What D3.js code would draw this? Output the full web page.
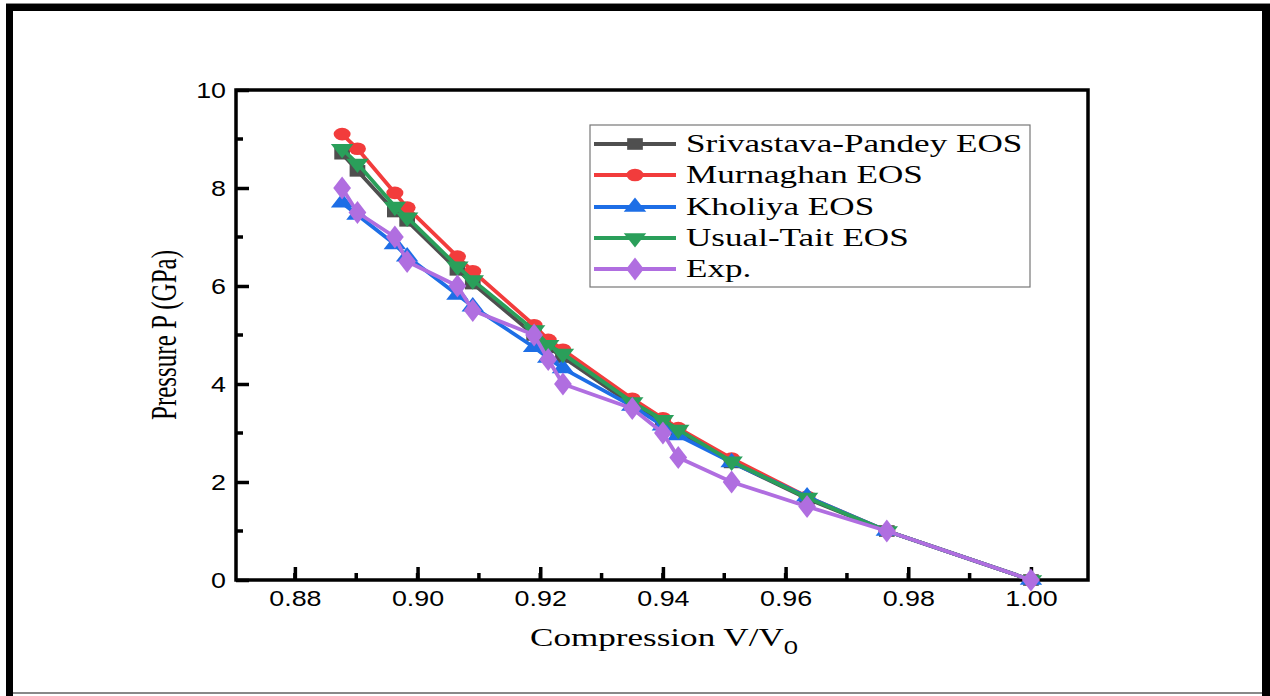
<!DOCTYPE html>
<html><head><meta charset="utf-8">
<script src="https://cdn.jsdelivr.net/npm/d3@7"></script>
<style>html,body{margin:0;padding:0;background:#fff;}svg{display:block;}</style>
</head><body>
<svg id="chart" width="1270" height="696"></svg>
<script>
const compression = [0.8877, 0.8902, 0.8963, 0.8983, 0.9065, 0.9090, 0.9190, 0.9213, 0.9237, 0.9350, 0.9400, 0.9425, 0.9512, 0.9635, 0.9765, 1.0000];
const srivastavaPandey = [8.70, 8.35, 7.52, 7.33, 6.33, 6.05, 5.00, 4.75, 4.55, 3.58, 3.20, 3.02, 2.40, 1.66, 1.00, 0];
const murnaghan = [9.10, 8.80, 7.90, 7.60, 6.60, 6.30, 5.20, 4.90, 4.70, 3.70, 3.30, 3.10, 2.48, 1.70, 1.00, 0];
const kholiya = [7.70, 7.45, 6.85, 6.60, 5.82, 5.58, 4.75, 4.53, 4.32, 3.55, 3.15, 2.95, 2.40, 1.70, 1.00, 0];
const usualTait = [8.80, 8.50, 7.62, 7.40, 6.40, 6.12, 5.10, 4.80, 4.62, 3.63, 3.27, 3.07, 2.42, 1.68, 1.00, 0];
const experiment = [8.0, 7.5, 7.0, 6.5, 6.0, 5.5, 5.0, 4.5, 4.0, 3.5, 3.0, 2.5, 2.0, 1.5, 1.0, 0];
const seriesNames = ["Srivastava-Pandey EOS", "Murnaghan EOS", "Kholiya EOS", "Usual-Tait EOS", "Exp."];
const xTicks = [0.88, 0.90, 0.92, 0.94, 0.96, 0.98, 1.00];
const yTicks = [0, 2, 4, 6, 8, 10];

const SX = 1.35; // horizontal stretch seen in the reference picture

const series = [
  {name: seriesNames[0], values: srivastavaPandey, color: "#4f4f4f", symbol: d3.symbolSquare, size: 135, rot: 0},
  {name: seriesNames[1], values: murnaghan, color: "#f23c3c", symbol: d3.symbolCircle, size: 125, rot: 0},
  {name: seriesNames[2], values: kholiya, color: "#1d6ee6", symbol: d3.symbolTriangle, size: 120, rot: 0},
  {name: seriesNames[3], values: usualTait, color: "#2a9f5a", symbol: d3.symbolTriangle, size: 120, rot: 180},
  {name: seriesNames[4], values: experiment, color: "#b06ee0", symbol: d3.symbolDiamond, size: 150, rot: 0}
];

function stretch(sel, s) {
  sel.each(function() {
    const len = this.getComputedTextLength();
    d3.select(this).attr("textLength", len * s).attr("lengthAdjust", "spacingAndGlyphs");
  });
}

const svg = d3.select("#chart");
// outer frame
svg.append("rect").attr("x",0).attr("y",0).attr("width",1270).attr("height",696).attr("fill","#fff");
svg.append("rect").attr("x",6).attr("y",3).attr("width",1264).attr("height",1.5).attr("fill","#888");
svg.append("rect").attr("x",6).attr("y",4).attr("width",1264).attr("height",7).attr("fill","#000");
svg.append("rect").attr("x",6).attr("y",4).attr("width",7).attr("height",692).attr("fill","#000");
svg.append("rect").attr("x",1262).attr("y",4).attr("width",8).attr("height",692).attr("fill","#000");
svg.append("rect").attr("x",13).attr("y",692).attr("width",1249).attr("height",2).attr("fill","#888");

const L = 236, R = 1088, T = 90, B = 580;
const x = d3.scaleLinear().domain([0.8704, 1.0093]).range([L, R]);
const y = d3.scaleLinear().domain([0, 10]).range([B, T]);

// minor ticks
const xMinor = d3.range(0.87, 1.0093, 0.01).filter(v => v > 0.8704);
const yMinor = d3.range(1, 10, 2);
const g = svg.append("g");
g.selectAll(".xmn").data(xMinor).join("line").attr("x1", d=>x(d)).attr("x2", d=>x(d)).attr("y1", B).attr("y2", B-7).attr("stroke","#000").attr("stroke-width",3.5);
g.selectAll(".ymn").data(yMinor).join("line").attr("y1", d=>y(d)).attr("y2", d=>y(d)).attr("x1", L).attr("x2", L+7).attr("stroke","#000").attr("stroke-width",3.5);

const xAxis = d3.axisBottom(x).tickValues(xTicks).tickFormat(d3.format(".2f")).tickSizeInner(-13).tickSizeOuter(0).tickPadding(22);
const yAxis = d3.axisLeft(y).tickValues(yTicks).tickFormat(d3.format("d")).tickSizeInner(-13).tickSizeOuter(0).tickPadding(10);
const gx = svg.append("g").attr("transform", `translate(0,${B})`).call(xAxis);
const gy = svg.append("g").attr("transform", `translate(${L},0)`).call(yAxis);
[gx, gy].forEach(a => {
  a.select(".domain").remove();
  a.selectAll(".tick line").attr("stroke","#000").attr("stroke-width",3.5);
  a.selectAll(".tick text").attr("font-family","Liberation Sans, Arial, sans-serif").attr("font-size",22).attr("fill","#000");
  stretch(a.selectAll(".tick text"), 1.22);
});
gx.selectAll(".tick text").attr("dy","0.2em");
// plot box
svg.append("rect").attr("x",L).attr("y",T).attr("width",R-L).attr("height",B-T).attr("fill","none").attr("stroke","#000").attr("stroke-width",3.5);

// series
const line = d3.line().x((d,i)=>x(compression[i])).y(d=>y(d));
series.forEach(s => {
  const sg = svg.append("g");
  sg.append("path").attr("d", line(s.values)).attr("fill","none").attr("stroke", s.color).attr("stroke-width",3.8).attr("stroke-linejoin","round");
  sg.selectAll("path.m").data(s.values).join("path").attr("class","m")
    .attr("d", d3.symbol().type(s.symbol).size(s.size))
    .attr("transform", (d,i)=>`translate(${x(compression[i])},${y(d)}) scale(${SX},1) rotate(${s.rot})`)
    .attr("fill", s.color);
});

// legend
const lg = svg.append("g");
lg.append("rect").attr("x",590).attr("y",125).attr("width",440).attr("height",162).attr("fill","#fff").attr("stroke","#777").attr("stroke-width",1.2);
const ly = [144, 175, 207, 238, 269];
series.forEach((s,i) => {
  lg.append("line").attr("x1",594).attr("x2",676).attr("y1",ly[i]).attr("y2",ly[i]).attr("stroke",s.color).attr("stroke-width",3.8);
  lg.append("path").attr("d", d3.symbol().type(s.symbol).size(s.size)).attr("transform",`translate(635,${ly[i]}) scale(${SX},1) rotate(${s.rot})`).attr("fill",s.color);
  const t = lg.append("text").attr("x",686).attr("y",ly[i]+8).text(s.name).attr("font-family","Liberation Serif, Times New Roman, serif").attr("font-size",26).attr("fill","#000");
  stretch(t, SX);
});

// axis titles
const xt = svg.append("text").attr("transform",`translate(664,646) scale(${SX},1)`).attr("text-anchor","middle").attr("font-family","Liberation Serif, Times New Roman, serif").attr("font-size",26).attr("fill","#000");
xt.append("tspan").text("Compression V/V");
xt.append("tspan").text("0").attr("font-family","Liberation Sans, Arial, sans-serif").attr("font-size",19).attr("dy",8);
svg.append("text").attr("transform",`translate(176,335) scale(${SX},1) rotate(-90)`).attr("text-anchor","middle")
  .attr("font-family","Liberation Serif, Times New Roman, serif").attr("font-size",27).attr("fill","#000")
  .attr("textLength",170).attr("lengthAdjust","spacingAndGlyphs").text("Pressure P (GPa)");
</script>
</body></html>
